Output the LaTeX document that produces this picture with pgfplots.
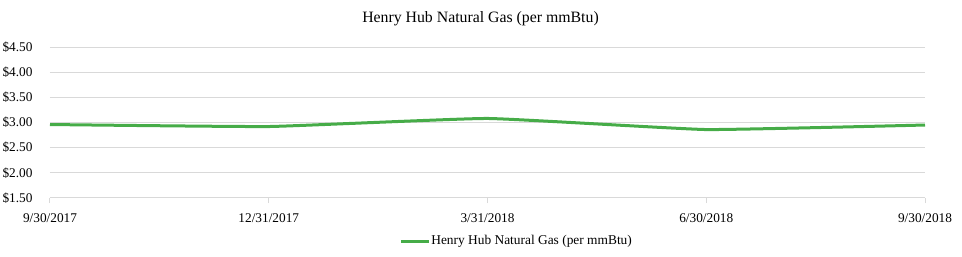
\documentclass[border=0pt]{standalone}
\usepackage{fontspec}
\setmainfont{Liberation Serif}
\usepackage{pgfplots}
\pgfplotsset{compat=1.18}
\definecolor{hhgreen}{RGB}{70,172,72}
\definecolor{gridgray}{RGB}{217,217,217}
\begin{document}
\begin{tikzpicture}
\useasboundingbox (-50pt,-59pt) rectangle (912pt,198pt);
\begin{axis}[
  at={(0,0)}, anchor=south west,
  scale only axis, width=875pt, height=151pt,
  xmin=0, xmax=4, ymin=1.5, ymax=4.5,
  axis x line*=bottom, axis y line*=left,
  axis line style={draw=none},
  xtick={0,1,2,3,4},
  xticklabels={9/30/2017,12/31/2017,3/31/2018,6/30/2018,9/30/2018},
  ytick={1.5,2,2.5,3,3.5,4,4.5},
  ymajorgrids, grid style={gridgray, line width=1pt},
  major tick length=5pt, tick align=outside,
  xtick style={gridgray, line width=1pt},
  ytick style={draw=none},
  /pgf/number format/assume math mode=true,
  yticklabel={\$\pgfmathprintnumber[fixed,fixed zerofill,precision=2]{\tick}},
  yticklabel style={font=\fontsize{13.3}{16}\selectfont, anchor=east, xshift=-9pt},
  xticklabel style={font=\fontsize{13.3}{16}\selectfont, anchor=base, yshift=-19.5pt},
  title={Henry Hub Natural Gas (per mmBtu)},
  title style={font=\fontsize{15.8}{19}\selectfont, at={(0.5,1)}, anchor=base, yshift=19pt, xshift=-7pt},
  legend style={draw=none, fill=none, at={(axis description cs:0.3990,-0.285)}, anchor=west,
    font=\fontsize{13.4}{16}\selectfont, inner sep=0pt, nodes={inner sep=1pt}},
  legend image code/.code={\draw[#1] plot coordinates {(0pt,0pt) (28pt,0pt)};},
]
\addplot[hhgreen, line width=3pt, smooth, tension=0.2] coordinates {
  (0,2.96) (1,2.92) (2,3.08) (3,2.86) (4,2.95)
};
\addlegendentry{Henry Hub Natural Gas (per mmBtu)}
\end{axis}
\end{tikzpicture}
\end{document}
